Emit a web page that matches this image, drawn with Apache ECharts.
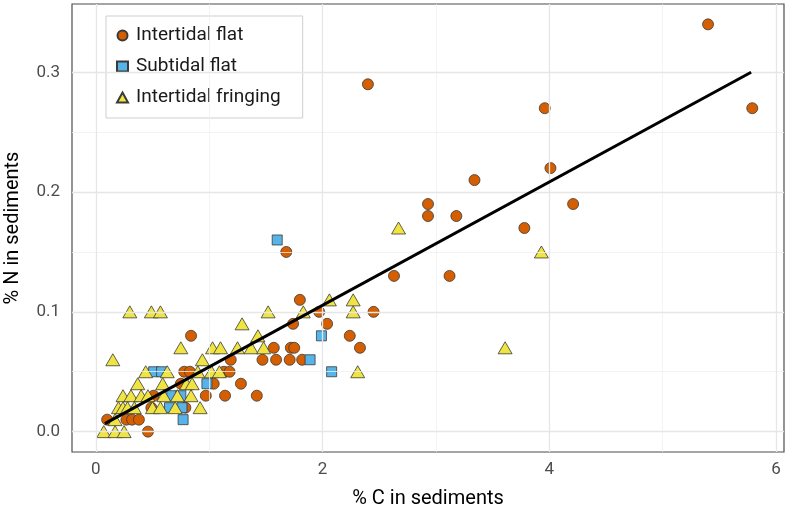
<!DOCTYPE html>
<html>
<head>
    <meta charset="utf-8">
    <title>% N vs % C in sediments</title>
    <script src="https://cdn.jsdelivr.net/npm/echarts@6/dist/echarts.min.js"></script>
    <style>
        html, body { margin: 0; padding: 0; background: #fff; }
    </style>
</head>
<body>
    <div id="chart" style="width:788px; height:510px"></div>

    <script>
        // data: [% C, % N]
        const intertidalFlat = [
            [5.40, 0.34], [2.40, 0.29], [3.96, 0.27], [5.79, 0.27], [4.01, 0.22],
            [3.34, 0.21], [2.93, 0.19], [4.21, 0.19], [2.93, 0.18], [3.18, 0.18],
            [3.78, 0.17], [1.68, 0.15], [2.63, 0.13], [3.12, 0.13], [1.80, 0.11],
            [1.97, 0.10], [2.45, 0.10], [1.74, 0.09], [2.04, 0.09], [0.84, 0.08],
            [2.24, 0.08], [1.57, 0.07], [1.72, 0.07], [1.75, 0.07], [2.33, 0.07],
            [1.19, 0.06], [1.47, 0.06], [1.59, 0.06], [1.71, 0.06], [1.82, 0.06],
            [0.78, 0.05], [0.83, 0.05], [1.13, 0.05], [1.18, 0.05],
            [0.75, 0.04], [1.04, 0.04], [1.28, 0.04],
            [0.51, 0.03], [0.97, 0.03], [1.14, 0.03], [1.42, 0.03],
            [0.49, 0.02], [0.79, 0.02],
            [0.10, 0.01], [0.27, 0.01], [0.32, 0.01], [0.38, 0.01],
            [0.46, 0.00]
        ];
        const subtidalFlat = [
            [1.60, 0.16], [1.99, 0.08], [1.89, 0.06], [2.08, 0.05], [0.51, 0.05],
            [0.58, 0.05], [0.98, 0.04], [0.67, 0.03], [0.75, 0.03], [0.65, 0.02],
            [0.76, 0.02], [0.77, 0.01]
        ];
        const intertidalFringing = [
            [2.67, 0.17], [3.93, 0.15], [3.61, 0.07],
            [2.06, 0.11], [2.27, 0.11],
            [0.30, 0.10], [0.49, 0.10], [0.57, 0.10], [1.52, 0.10], [1.83, 0.10], [2.27, 0.10],
            [1.29, 0.09], [1.43, 0.08],
            [0.75, 0.07], [1.03, 0.07], [1.10, 0.07], [1.25, 0.07], [1.37, 0.07], [1.48, 0.07],
            [0.15, 0.06], [0.94, 0.06],
            [0.44, 0.05], [0.63, 0.05], [0.90, 0.05], [1.02, 0.05], [1.09, 0.05], [2.31, 0.05],
            [0.37, 0.04], [0.59, 0.04], [0.80, 0.04], [0.85, 0.04],
            [0.24, 0.03], [0.31, 0.03], [0.40, 0.03], [0.46, 0.03], [0.60, 0.03], [0.72, 0.03], [0.84, 0.03],
            [0.20, 0.02], [0.24, 0.02], [0.28, 0.02], [0.34, 0.02], [0.50, 0.02], [0.57, 0.02], [0.70, 0.02], [0.92, 0.02],
            [0.17, 0.01],
            [0.07, 0.00], [0.17, 0.00], [0.25, 0.00]
        ];
        // fitted line end points
        const fitLine = [[0.08, 0.0067], [5.78, 0.300]];

        const xTicks = [0, 2, 4, 6];
        const xMinor = [1, 3, 5];
        const yTicks = [0, 0.1, 0.2, 0.3];
        const yMinor = [0.05, 0.15, 0.25];

        const font = "Roboto, sans-serif";
        let chart = echarts.init(document.getElementById('chart'));

        // grid lines drawn as markLines so they sit on major/minor breaks
        function gridLines(vals, key, width, color) {
            return vals.map(v => ({
                [key]: v,
                lineStyle: { color: color, width: width, type: 'solid' }
            }));
        }

        let option = {
            animation: false,
            textStyle: { fontFamily: font },
            grid: {
                left: 72, right: 4, top: 4, bottom: 58,
                outerBoundsMode: 'none',
                containLabel: false,
                show: true, borderColor: '#4d4d4d', borderWidth: 1.2,
                backgroundColor: '#fff'
            },
            legend: {
                orient: 'vertical',
                left: 106, top: 16,
                backgroundColor: '#fff',
                borderColor: '#cfcfcf', borderWidth: 1,
                padding: [10, 22, 11, 10],
                itemGap: 12,
                itemWidth: 11, itemHeight: 10,
                textStyle: { fontSize: 19, color: '#1a1a1a', fontFamily: font, padding: [0, 0, 0, 3] },
                data: ['Intertidal flat', 'Subtidal flat', 'Intertidal fringing']
            },
            xAxis: {
                type: 'value',
                min: -0.21, max: 6.07,
                name: '% C in sediments',
                nameLocation: 'middle', nameGap: 37,
                nameMoveOverlap: false,
                nameTextStyle: { fontSize: 20, color: '#000', fontFamily: font },
                axisLine: { show: false },
                axisTick: { show: true, length: 5, customValues: xTicks, lineStyle: { color: '#4d4d4d' } },
                axisLabel: { customValues: xTicks, fontSize: 17, color: '#4d4d4d', margin: 9, fontFamily: font },
                splitLine: { show: false }
            },
            yAxis: {
                type: 'value',
                min: -0.017, max: 0.357,
                name: '% N in sediments',
                nameLocation: 'middle', nameGap: 49,
                nameMoveOverlap: false,
                nameTextStyle: { fontSize: 20, color: '#000', fontFamily: font },
                axisLine: { show: false },
                axisTick: { show: true, length: 5, customValues: yTicks, lineStyle: { color: '#4d4d4d' } },
                axisLabel: {
                    customValues: yTicks, fontSize: 17, color: '#4d4d4d', margin: 12, fontFamily: font,
                    formatter: v => v.toFixed(1)
                },
                splitLine: { show: false }
            },
            series: [
                {
                    name: 'grid',
                    type: 'line',
                    data: [],
                    z: 0,
                    silent: true,
                    markLine: {
                        silent: true,
                        symbol: 'none',
                        label: { show: false },
                        animation: false,
                        data: [].concat(
                            gridLines(xMinor, 'xAxis', 0.8, '#f0f0f0'),
                            gridLines(yMinor, 'yAxis', 0.8, '#f0f0f0'),
                            gridLines(xTicks, 'xAxis', 1.3, '#e6e6e6'),
                            gridLines(yTicks, 'yAxis', 1.3, '#e6e6e6')
                        )
                    }
                },
                {
                    name: 'Intertidal flat',
                    type: 'scatter',
                    symbol: 'circle',
                    symbolSize: 11,
                    z: 2,
                    itemStyle: { color: '#D55E00', borderColor: '#3a3a3a', borderWidth: 0.8, opacity: 1 },
                    data: intertidalFlat
                },
                {
                    name: 'Subtidal flat',
                    type: 'scatter',
                    symbol: 'rect',
                    symbolSize: 10,
                    z: 3,
                    itemStyle: { color: '#56B4E9', borderColor: '#3a3a3a', borderWidth: 0.8, opacity: 1 },
                    data: subtidalFlat
                },
                {
                    name: 'Intertidal fringing',
                    type: 'scatter',
                    symbol: 'triangle',
                    symbolSize: [14, 12],
                    z: 4,
                    itemStyle: { color: '#F0E442', borderColor: '#3a3a3a', borderWidth: 0.8, opacity: 1 },
                    data: intertidalFringing
                },
                {
                    name: 'fit',
                    type: 'line',
                    showSymbol: false,
                    symbol: 'none',
                    z: 5,
                    silent: true,
                    lineStyle: { color: '#000', width: 3 },
                    data: fitLine
                }
            ]
        };

        chart.setOption(option);
    </script>
</body>
</html>
